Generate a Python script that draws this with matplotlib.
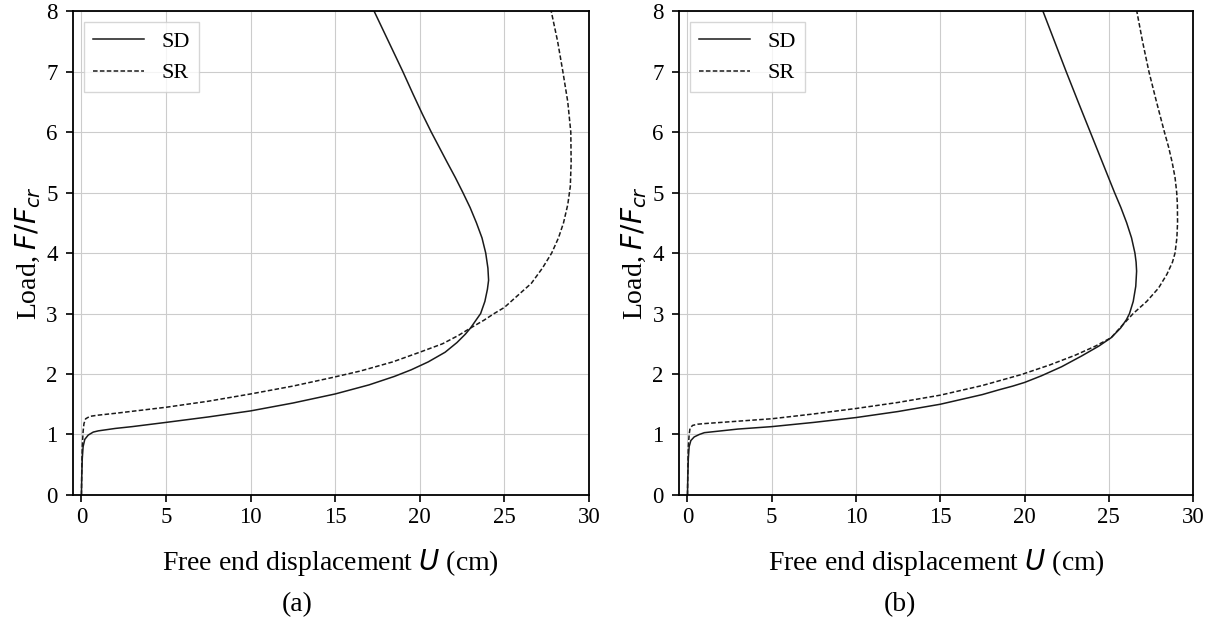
import matplotlib
matplotlib.use("Agg")
import matplotlib.pyplot as plt

plt.rcParams['font.family'] = ['Liberation Serif', 'DejaVu Serif']
plt.rcParams['mathtext.fontset'] = 'dejavusans'

# panel (a)
sd_a_u = [0, 0.02, 0.05, 0.1, 0.2, 0.4, 0.7, 1, 2, 3, 5, 7.5, 10, 12.5, 15, 17, 18.5, 19.5, 20.5, 21.5, 22.2, 22.7, 23.0, 23.3, 23.6, 23.85, 24.0, 24.07, 24.03, 23.9, 23.68, 23.35, 22.98, 22.55, 22.1, 21.62, 21.15, 20.68, 20.15, 19.6, 19.0, 18.15, 17.3]
sd_a_f = [0, 0.3, 0.6, 0.8, 0.92, 0.99, 1.04, 1.06, 1.1, 1.13, 1.2, 1.29, 1.39, 1.52, 1.67, 1.82, 1.96, 2.07, 2.2, 2.36, 2.52, 2.66, 2.76, 2.88, 3.0, 3.2, 3.4, 3.55, 3.75, 4.0, 4.25, 4.5, 4.75, 5.0, 5.25, 5.5, 5.75, 6.0, 6.3, 6.63, 7.0, 7.5, 8.0]
sr_a_u = [0, 0.02, 0.05, 0.1, 0.15, 0.25, 0.5, 1, 2, 3.5, 5, 7.5, 10, 12.5, 14.8, 16.5, 18.4, 20, 21.35, 22.3, 23.0, 23.8, 24.4, 25.0, 25.8, 26.6, 27.25, 27.8, 28.2, 28.5, 28.75, 28.9, 28.95, 28.93, 28.75, 28.46, 28.15, 27.77]
sr_a_f = [0, 0.4, 0.8, 1.05, 1.18, 1.26, 1.3, 1.32, 1.35, 1.4, 1.45, 1.55, 1.67, 1.8, 1.94, 2.05, 2.2, 2.36, 2.5, 2.64, 2.76, 2.89, 3.0, 3.1, 3.3, 3.5, 3.75, 4.0, 4.25, 4.5, 4.8, 5.1, 5.5, 6.0, 6.5, 7.0, 7.5, 8.0]

# panel (b)
sd_b_u = [0, 0.02, 0.05, 0.1, 0.2, 0.4, 0.7, 1, 2, 3, 5, 7.5, 10, 12.5, 15, 17.5, 18.5, 19.3, 20, 21, 22.2, 23.4, 24.4, 25.14, 25.7, 26.05, 26.23, 26.45, 26.6, 26.65, 26.62, 26.55, 26.35, 26.06, 25.72, 25.34, 24.62, 23.9, 23.18, 22.47, 21.78, 21.09]
sd_b_f = [0, 0.3, 0.6, 0.8, 0.9, 0.96, 1.0, 1.03, 1.06, 1.09, 1.13, 1.2, 1.28, 1.38, 1.5, 1.66, 1.74, 1.8, 1.86, 1.97, 2.12, 2.3, 2.46, 2.6, 2.76, 2.9, 3.0, 3.2, 3.45, 3.7, 3.85, 4.0, 4.25, 4.5, 4.75, 5.0, 5.5, 6.0, 6.5, 7.0, 7.5, 8.0]
sr_b_u = [0, 0.02, 0.05, 0.1, 0.15, 0.3, 0.6, 1, 2, 3.5, 5, 7.5, 10, 12.5, 15, 17.5, 19.8, 21.5, 23.0, 24.2, 25.14, 25.72, 26.45, 27.25, 27.95, 28.45, 28.78, 28.93, 29.04, 29.08, 29.07, 29.03, 28.93, 28.76, 28.55, 28.3, 27.83, 27.38, 27.0, 26.66]
sr_b_f = [0, 0.4, 0.8, 1.0, 1.1, 1.15, 1.17, 1.18, 1.2, 1.23, 1.26, 1.34, 1.43, 1.53, 1.65, 1.81, 1.99, 2.15, 2.31, 2.46, 2.6, 2.78, 3.0, 3.2, 3.42, 3.65, 3.85, 4.0, 4.25, 4.5, 4.8, 5.0, 5.25, 5.5, 5.75, 6.0, 6.5, 7.0, 7.5, 8.0]

xticks = [0, 5, 10, 15, 20, 25, 30]
yticks = [0, 1, 2, 3, 4, 5, 6, 7, 8]

fig = plt.figure(figsize=(12.1, 6.26), dpi=100)
ax1 = fig.add_axes([0.0603, 0.2093, 0.4264, 0.773])
ax2 = fig.add_axes([0.5612, 0.2093, 0.4248, 0.773])

panels = [(ax1, sd_a_u, sd_a_f, sr_a_u, sr_a_f, '(a)', 297),
          (ax2, sd_b_u, sd_b_f, sr_b_u, sr_b_f, '(b)', 900)]

for ax, su, sf, ru, rf, tag, xc in panels:
    ax.plot(su, sf, color='#1a1a1a', lw=1.1, ls='-', label='SD')
    ax.plot(ru, rf, color='#1a1a1a', lw=1.1, ls='--', dashes=(3, 1.5), label='SR')
    ax.set_xlim(-0.5, 30)
    ax.set_ylim(0, 8)
    ax.set_xticks(xticks)
    ax.set_yticks(yticks)
    ax.tick_params(labelsize=16.5, width=1.2, length=5)
    ax.tick_params(axis='y', pad=6)
    ax.grid(True, color='#cccccc', lw=0.8)
    for s in ax.spines.values():
        s.set_linewidth(1.3)
    ax.set_xlabel(r'Free end displacement $U$ (cm)', fontsize=20, labelpad=14)
    ax.set_ylabel(r'Load, $F/F_{cr}$', fontsize=20, labelpad=2)
    ax.legend(loc='upper left', fontsize=16, handlelength=2.3, fancybox=False,
              framealpha=0.8, edgecolor='#cccccc')
    fig.text(xc / 1210, 1 - 605 / 626, tag, fontsize=20, ha='center', va='center')

fig.savefig('out.png', dpi=100)
